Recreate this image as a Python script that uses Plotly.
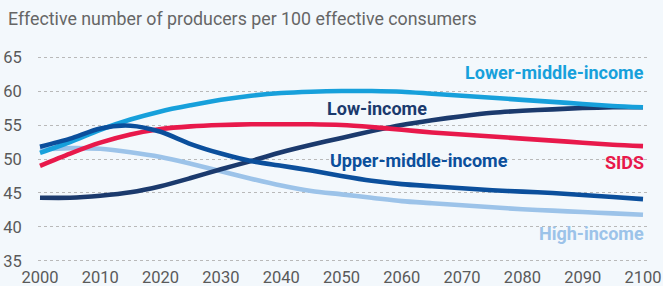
import plotly.graph_objects as go

years = [2000, 2005, 2010, 2015, 2020, 2025, 2030, 2035, 2040, 2045, 2050,
         2055, 2060, 2065, 2070, 2075, 2080, 2085, 2090, 2095, 2100]

lower_middle = [50.9, 52.5, 54.3, 55.8, 57.0, 57.9, 58.7, 59.3, 59.7, 59.9, 60.0,
                60.0, 59.9, 59.6, 59.3, 59.0, 58.7, 58.4, 58.1, 57.8, 57.6]
low = [44.3, 44.3, 44.6, 45.1, 46.0, 47.2, 48.5, 49.7, 51.0, 52.1, 53.1,
       54.1, 55.0, 55.7, 56.3, 56.8, 57.1, 57.3, 57.5, 57.6, 57.6]
sids = [49.0, 50.8, 52.4, 53.6, 54.4, 54.8, 55.0, 55.1, 55.1, 55.1, 55.0,
        54.7, 54.3, 53.9, 53.6, 53.3, 53.0, 52.7, 52.4, 52.1, 51.9]
upper_middle = [51.8, 53.0, 54.5, 54.9, 54.0, 52.2, 50.8, 49.7, 49.0, 48.3, 47.5,
                46.8, 46.3, 46.0, 45.7, 45.4, 45.2, 45.0, 44.7, 44.4, 44.1]
high = [51.4, 51.6, 51.5, 51.0, 50.3, 49.3, 48.2, 47.1, 46.1, 45.3, 44.8,
        44.3, 43.8, 43.5, 43.2, 42.9, 42.6, 42.4, 42.2, 42.0, 41.8]

series_names = ["High-income", "Low-income", "SIDS", "Lower-middle-income", "Upper-middle-income"]
series_values = [high, low, sids, lower_middle, upper_middle]
series_colors = ["#9cc3e9", "#1b3a6d", "#e8194b", "#17a0db", "#0b4f9c"]

x_ticks = [2000, 2010, 2020, 2030, 2040, 2050, 2060, 2070, 2080, 2090, 2100]
y_ticks = [35, 40, 45, 50, 55, 60, 65]

title_text = "Effective number of producers per 100 effective consumers"

# label positions (year, value, anchor)
labels = {
    "Lower-middle-income": (2100.5, 62.65, "right"),
    "Low-income": (2055.9, 57.5, "center"),
    "Upper-middle-income": (2047.8, 49.85, "left"),
    "SIDS": (2100.5, 49.55, "right"),
    "High-income": (2100.5, 38.97, "right"),
}

fig = go.Figure()
for name, vals, col in zip(series_names, series_values, series_colors):
    fig.add_trace(go.Scatter(x=years, y=vals, mode="lines", name=name,
                             line=dict(color=col, width=4.6, shape="spline", smoothing=0.8),
                             hoverinfo="skip"))

for name, col in zip(series_names, series_colors):
    lx, ly, anc = labels[name]
    fig.add_annotation(x=lx, y=ly, xref="x", yref="y", text="<b>%s</b>" % name,
                       showarrow=False, xanchor=anc, yanchor="middle",
                       font=dict(family="Roboto", size=18, color=col))

bg = "#f3f8fc"
fig.update_layout(
    width=663, height=286,
    margin=dict(l=38, r=13, t=50, b=21, autoexpand=False),
    paper_bgcolor=bg, plot_bgcolor=bg,
    showlegend=False,
    title=dict(text=title_text, x=0.012, xanchor="left", xref="container",
               y=1 - 19 / 286, yanchor="middle", yref="container",
               font=dict(family="Roboto", size=17.8, color="#666666")),
    font=dict(family="Roboto"),
)
fig.update_xaxes(range=[1999.67, 2101.16], tickvals=x_ticks, showgrid=False, zeroline=False,
                 showline=False, ticks="", automargin=False,
                 tickfont=dict(family="Roboto", size=16.5, color="#5a5a5a"))
fig.update_yaxes(range=[34.41, 66.03], tickvals=y_ticks, showgrid=True, gridcolor="#b9b9b9",
                 griddash="dot", gridwidth=1, zeroline=False, showline=False,
                 ticks="outside", ticklen=12, tickcolor="rgba(0,0,0,0)",
                 automargin=False,
                 tickfont=dict(family="Roboto", size=16.5, color="#5a5a5a"))

fig.write_html("out.html", config={"displayModeBar": False},
               post_script="document.body.style.margin='0';document.body.style.background='%s';" % bg)
